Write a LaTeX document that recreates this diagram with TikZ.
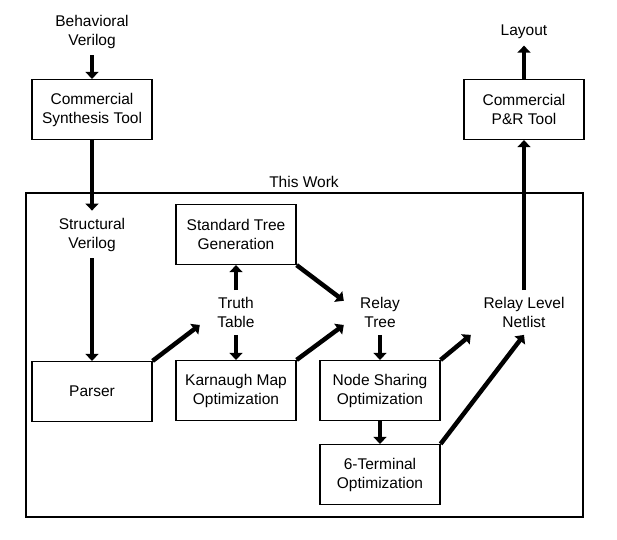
\documentclass[tikz,border=0pt]{standalone}
\usepackage{fontspec}
\setmainfont{Liberation Sans}
\usepackage{tikz}
\usetikzlibrary{arrows.meta}
\tikzstyle{process} = [rectangle, minimum width=120pt, minimum height=60pt, align=center, draw=black, line width=1.2pt, font=\fontsize{15.5}{19}\selectfont]
\tikzstyle{io} = [rectangle, minimum width=72pt, inner ysep=7pt, align=center, font=\fontsize{15.5}{19}\selectfont]
\tikzstyle{arrow} = [line width=4.5pt, -{Triangle[length=7pt,width=13pt]}]

\begin{document}
\begin{tikzpicture}[x=1pt, y=1pt, node distance=78pt]
        \useasboundingbox (0,0) rectangle (617,-539);
        \draw [line width=1.2pt] (26,-193) rectangle (583,-517);
        \node (work) [font=\fontsize{15.5}{19}\selectfont] at (304,-182) {This Work};

        \node (behav) [io] at (92,-31.5) {Behavioral\\Verilog};
        \node (synth) [process, below of=behav] {Commercial\\Synthesis Tool};
        \node (struct) [io, below of=synth, yshift=-47pt] {Structural\\Verilog};
        \node (parser) [process, below of=struct, yshift=-79pt] {Parser};
        \node (stg) [process, right of=struct, xshift=66pt] {Standard Tree\\Generation};
        \node (tt) [io, below of=stg] {Truth\\Table};
        \node (km) [process, below of=tt] {Karnaugh Map\\Optimization};
        \node (rt) [io, right of=tt, xshift=66pt] {Relay\\Tree};
        \node (ns) [process, below of=rt] {Node Sharing\\Optimization};
        \node (six) [process, below of=ns, yshift=-6pt] {6-Terminal\\Optimization};
        \node (rln) [io, minimum width=106pt, right of=rt, xshift=66pt] {Relay Level\\Netlist};
        \node (pr) [process, above of=rln, yshift=125pt] {Commercial\\P\&R Tool};
        \node (layout) [io, above of=pr] {Layout};

        \draw [arrow] (behav) -- (synth);
        \draw [arrow] (synth) -- (struct);
        \draw [arrow] (struct) -- (parser);
        \draw [arrow] (parser.north east) -- (tt.199);
        \draw [arrow] (tt) -- (stg);
        \draw [arrow] (tt) -- (km);
        \draw [arrow] (stg.south east) -- (rt.162);
        \draw [arrow] (km.north east) -- (rt.199);
        \draw [arrow] (rt) -- (ns);
        \draw [arrow] (ns) -- (six);
        \draw [arrow] (ns.north east) -- (rln.south west);
        \draw [arrow] (six.north east) -- (rln.south);
        \draw [arrow] (rln) -- (pr);
        \draw [arrow] (pr) -- (layout);
    \end{tikzpicture}
\end{document}
